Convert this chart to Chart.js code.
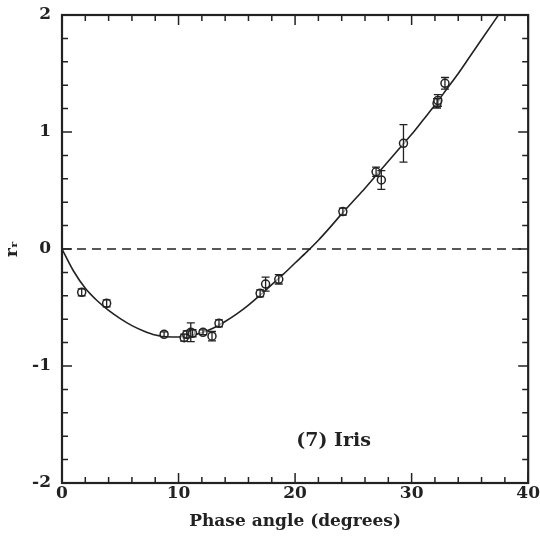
<!DOCTYPE html>
<html>
<head>
<meta charset="utf-8">
<script src="https://cdn.jsdelivr.net/npm/chart.js@4"></script>
<style>
  html, body { margin: 0; padding: 0; background: #fff; }
  #wrap { width: 540px; height: 536px; }
</style>
</head>
<body>
<div id="wrap"><canvas id="chart"></canvas></div>
<script>
// observed points: phase angle, r_r and error
const phaseAngle = [1.69, 3.83, 8.76, 10.48, 10.7, 11.05, 11.2, 12.1, 12.87, 13.47, 17.0, 17.47, 18.6, 24.1, 26.95, 27.4, 29.3, 32.18, 32.25, 32.86];
const rValues = [-0.37, -0.464, -0.729, -0.758, -0.73, -0.712, -0.72, -0.712, -0.745, -0.635, -0.379, -0.30, -0.259, 0.32, 0.66, 0.59, 0.903, 1.245, 1.27, 1.416];
const rErrors = [0.03, 0.03, 0.02, 0.03, 0.03, 0.08, 0.03, 0.02, 0.04, 0.03, 0.03, 0.06, 0.04, 0.03, 0.04, 0.08, 0.16, 0.04, 0.05, 0.05];

// fitted curve
const fitX = [0, 1, 2, 3, 4, 5, 6, 7, 8, 9, 10, 11, 12, 13, 14, 15, 16, 17, 18, 19, 20, 21, 22, 23, 24, 25, 26, 27, 28, 29, 30, 31, 32, 33, 34, 35, 36, 37, 38];
const fitY = [0, -0.19, -0.335, -0.44, -0.525, -0.595, -0.655, -0.70, -0.735, -0.75, -0.752, -0.74, -0.715, -0.675, -0.62, -0.555, -0.48, -0.395, -0.305, -0.215, -0.12, -0.025, 0.075, 0.185, 0.30, 0.41, 0.52, 0.635, 0.75, 0.865, 0.98, 1.105, 1.23, 1.365, 1.50, 1.645, 1.79, 1.935, 2.08];

const xTicks = [0, 10, 20, 30, 40];
const yTicks = [-2, -1, 0, 1, 2];
const label = "(7) Iris";
const labelPos = [20.1, -1.64];

const fontFamily = "'DejaVu Serif', serif";

// inward ticks, frame, error bars and label
const framePlugin = {
    id: "frame",
    afterDatasetsDraw(chart) {
        const { ctx, chartArea: a, scales } = chart;
        const xs = scales.x, ys = scales.y;
        ctx.save();
        ctx.strokeStyle = "#222";

        // error bars
        ctx.lineWidth = 1.3;
        phaseAngle.forEach((px, i) => {
            const x = xs.getPixelForValue(px);
            const y1 = ys.getPixelForValue(rValues[i] - rErrors[i]);
            const y2 = ys.getPixelForValue(rValues[i] + rErrors[i]);
            ctx.beginPath();
            ctx.moveTo(x, y1); ctx.lineTo(x, y2);
            ctx.moveTo(x - 4, y1); ctx.lineTo(x + 4, y1);
            ctx.moveTo(x - 4, y2); ctx.lineTo(x + 4, y2);
            ctx.stroke();
        });

        // ticks
        ctx.lineWidth = 1.5;
        for (let v = 0; v <= 40; v += 2) {
            const x = xs.getPixelForValue(v);
            const len = v % 10 === 0 ? 10 : 6;
            ctx.beginPath();
            ctx.moveTo(x, a.bottom); ctx.lineTo(x, a.bottom - len);
            ctx.moveTo(x, a.top); ctx.lineTo(x, a.top + len);
            ctx.stroke();
        }
        for (let k = -10; k <= 10; k++) {
            const y = ys.getPixelForValue(k * 0.2);
            const len = k % 5 === 0 ? 10 : 6;
            ctx.beginPath();
            ctx.moveTo(a.left, y); ctx.lineTo(a.left + len, y);
            ctx.moveTo(a.right, y); ctx.lineTo(a.right - len, y);
            ctx.stroke();
        }

        // frame
        ctx.lineWidth = 2.2;
        ctx.strokeRect(a.left, a.top, a.right - a.left, a.bottom - a.top);

        // object label
        ctx.fillStyle = "#222";
        ctx.font = "bold 19px " + fontFamily;
        ctx.textBaseline = "middle";
        ctx.fillText(label, xs.getPixelForValue(labelPos[0]), ys.getPixelForValue(labelPos[1]));
        ctx.restore();
    },
};

new Chart(document.getElementById("chart"), {
    type: "scatter",
    data: {
        datasets: [
            {
                label: "points",
                data: phaseAngle.map((x, i) => ({ x: x, y: rValues[i] })),
                pointStyle: "circle",
                pointRadius: 4,
                pointBorderWidth: 1.5,
                pointBorderColor: "#222",
                pointBackgroundColor: "rgba(255,255,255,0.6)",
                order: 0,
            },
            {
                type: "line",
                label: "fit",
                data: fitX.map((x, i) => ({ x: x, y: fitY[i] })),
                borderColor: "#222",
                borderWidth: 1.6,
                pointRadius: 0,
                cubicInterpolationMode: "monotone",
                fill: false,
                order: 1,
            },
            {
                type: "line",
                label: "zero",
                data: [{ x: 0, y: 0 }, { x: 40, y: 0 }],
                borderColor: "#222",
                borderWidth: 1.6,
                borderDash: [9, 6],
                pointRadius: 0,
                fill: false,
                order: 2,
            },
        ],
    },
    options: {
        responsive: true,
        maintainAspectRatio: false,
        animation: false,
        layout: { padding: { top: 15, right: 6, left: 0, bottom: 0 } },
        plugins: {
            legend: { display: false },
            tooltip: { enabled: false },
        },
        scales: {
            x: {
                type: "linear",
                min: 0,
                max: 40,
                grid: { display: false, drawTicks: false, tickLength: 0 },
                border: { display: false },
                afterBuildTicks: (s) => { s.ticks = xTicks.map((v) => ({ value: v })); },
                afterFit: (s) => { s.height = 53; },
                ticks: {
                    color: "#222",
                    padding: 0,
                    maxRotation: 0,
                    font: { family: fontFamily, size: 17, weight: "bold" },
                },
                title: {
                    display: true,
                    text: "Phase angle (degrees)",
                    color: "#222",
                    padding: { top: 0, bottom: 4 },
                    font: { family: fontFamily, size: 17, weight: "bold" },
                },
            },
            y: {
                type: "linear",
                min: -2,
                max: 2,
                grid: { display: false, drawTicks: false, tickLength: 0 },
                border: { display: false },
                afterBuildTicks: (s) => { s.ticks = yTicks.map((v) => ({ value: v })); },
                afterFit: (s) => { s.width = 62; s.paddingTop = 0; s.paddingBottom = 0; },
                ticks: {
                    color: "#222",
                    padding: 11,
                    font: { family: fontFamily, size: 17, weight: "bold" },
                },
                title: {
                    display: true,
                    text: "r\u1d63",
                    color: "#222",
                    padding: { top: 2, bottom: 0 },
                    font: { family: fontFamily, size: 17, weight: "bold" },
                },
            },
        },
    },
    plugins: [framePlugin],
});
</script>
</body>
</html>
